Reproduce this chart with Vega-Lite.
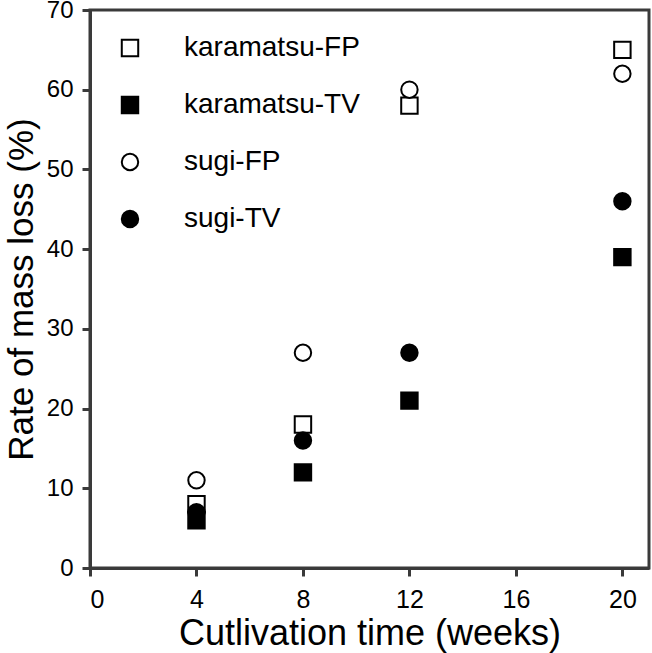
{
  "$schema": "https://vega.github.io/schema/vega-lite/v6.json",
  "width": 559,
  "height": 558,
  "autosize": {"type": "none"},
  "padding": {"left": 90, "top": 10, "right": 3, "bottom": 85},
  "background": "white",
  "config": {
    "font": "Liberation Sans",
    "view": {"stroke": "#3a3a3a", "strokeWidth": 3},
    "axis": {
      "domainColor": "#3a3a3a", "domainWidth": 3,
      "tickColor": "#3a3a3a", "tickWidth": 3, "tickSize": 8,
      "grid": false,
      "labelFont": "Liberation Sans", "labelFontSize": 25, "labelColor": "black",
      "titleFont": "Liberation Sans", "titleFontSize": 35, "titleFontWeight": "normal", "titleColor": "black"
    }
  },
  "data": {
    "values": [
      {"week": 4, "series": "karamatsu-FP", "loss": 8},
      {"week": 4, "series": "karamatsu-TV", "loss": 6},
      {"week": 4, "series": "sugi-FP", "loss": 11},
      {"week": 4, "series": "sugi-TV", "loss": 7},
      {"week": 8, "series": "karamatsu-FP", "loss": 18},
      {"week": 8, "series": "karamatsu-TV", "loss": 12},
      {"week": 8, "series": "sugi-FP", "loss": 27},
      {"week": 8, "series": "sugi-TV", "loss": 16},
      {"week": 12, "series": "karamatsu-FP", "loss": 58},
      {"week": 12, "series": "karamatsu-TV", "loss": 21},
      {"week": 12, "series": "sugi-FP", "loss": 60},
      {"week": 12, "series": "sugi-TV", "loss": 27},
      {"week": 20, "series": "karamatsu-FP", "loss": 65},
      {"week": 20, "series": "karamatsu-TV", "loss": 39},
      {"week": 20, "series": "sugi-FP", "loss": 62},
      {"week": 20, "series": "sugi-TV", "loss": 46}
    ]
  },
  "mark": {"type": "point", "filled": true, "stroke": "black", "strokeWidth": 2, "size": 270, "opacity": 1},
  "encoding": {
    "x": {
      "field": "week", "type": "quantitative",
      "scale": {"domain": [0, 21], "nice": false, "zero": true},
      "axis": {"values": [0, 4, 8, 12, 16, 20], "title": "Cutlivation time (weeks)", "titleFontSize": 36, "titlePadding": 4, "labelPadding": 11}
    },
    "y": {
      "field": "loss", "type": "quantitative",
      "scale": {"domain": [0, 70], "nice": false},
      "axis": {"values": [0, 10, 20, 30, 40, 50, 60, 70], "title": "Rate of mass loss (%)", "titleFontSize": 35, "titlePadding": 7, "labelPadding": 9, "labelFontSize": 24}
    },
    "shape": {
      "field": "series", "type": "nominal",
      "scale": {"domain": ["karamatsu-FP", "karamatsu-TV", "sugi-FP", "sugi-TV"], "range": ["square", "square", "circle", "circle"]},
      "legend": {
        "title": null, "orient": "none", "legendX": 26, "legendY": 24,
        "symbolSize": 270, "symbolStrokeWidth": 2, "symbolStrokeColor": "black",
        "labelFontSize": 28, "labelFont": "Liberation Sans", "labelColor": "black", "labelLimit": 0,
        "labelOffset": 40, "rowPadding": 29, "padding": 0,
        "symbolOpacity": 1,
        "encode": {"symbols": {"update": {"stroke": {"value": "black"}, "strokeWidth": {"value": 2}, "opacity": {"value": 1}}}}
      }
    },
    "fill": {
      "field": "series", "type": "nominal",
      "scale": {"domain": ["karamatsu-FP", "karamatsu-TV", "sugi-FP", "sugi-TV"], "range": ["white", "black", "white", "black"]},
      "legend": {
        "title": null, "orient": "none", "legendX": 26, "legendY": 24,
        "symbolSize": 270, "symbolStrokeWidth": 2, "symbolStrokeColor": "black",
        "labelFontSize": 28, "labelFont": "Liberation Sans", "labelColor": "black", "labelLimit": 0,
        "labelOffset": 40, "rowPadding": 29, "padding": 0,
        "symbolOpacity": 1,
        "encode": {"symbols": {"update": {"stroke": {"value": "black"}, "strokeWidth": {"value": 2}, "opacity": {"value": 1}}}}
      }
    }
  }
}
